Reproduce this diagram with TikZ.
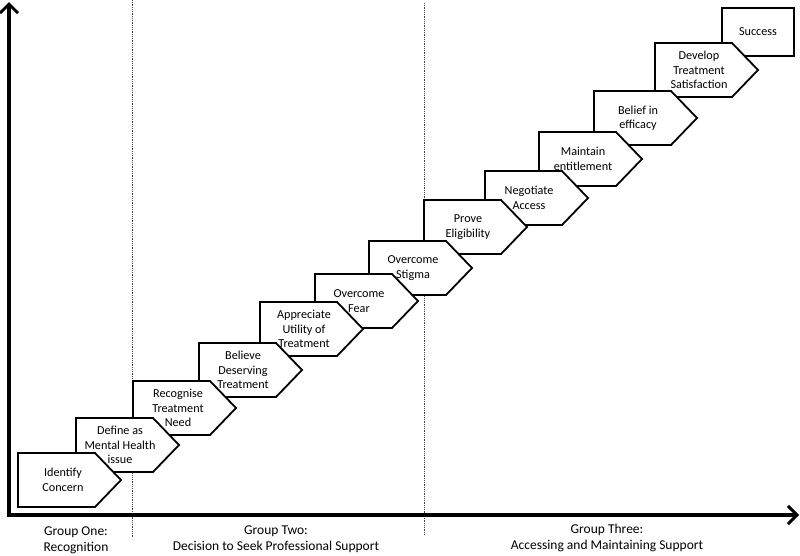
\documentclass[tikz,border=0pt]{standalone}
\usepackage{fontspec}
\setmainfont{Carlito}
\usetikzlibrary{arrows.meta}
\newcommand\stp[4]{%
  \draw[stepline] (#2,#3) -- ++(77,0) -- ++(26,27) -- ++(-26,27) -- ++(-77,0) -- cycle;
  \node[steptext] (#1) at (#2+44,#3+27) {#4};
}
\begin{document}
\begin{tikzpicture}[x=1pt,y=-1pt,
  stepline/.style={draw=black,line width=1.8pt,fill=white,line join=miter},
  steptext/.style={align=center,font=\fontsize{12.2}{14.5}\selectfont,inner sep=0pt},
  grouplabel/.style={align=center,font=\fontsize{13.5}{16}\selectfont,inner sep=0pt},
  divider/.style={densely dotted,line width=0.8pt,draw=black!75},
  axis/.style={line width=3.2pt,-{Straight Barb[length=9pt,width=18pt,line width=3pt]}}]
\useasboundingbox (0,0) rectangle (800,555);
% dividers
\coordinate (d1t) at (132,0);
\coordinate (d1b) at (132,538);
\coordinate (d2t) at (424,3);
\coordinate (d2b) at (424,535);
\draw[divider] (d1t) -- (d1b);
\draw[divider] (d2t) -- (d2b);
% axes
\coordinate (origin) at (9,515);
\coordinate (ytop) at (9,2);
\coordinate (xend) at (799,515);
\draw[axis] ([yshift=-1.6pt]origin) -- (ytop);
\draw[axis] ([xshift=-1.6pt]origin) -- (xend);
% success box
\draw[stepline] (722,8) rectangle (794,56);
\node[steptext] (success) at (758,32) {Success};
% steps, last first so earlier ones lie on top
\stp{develop}{655}{43}{}
\stp{belief}{594}{91}{}
\stp{maintain}{539}{132}{}
\stp{negotiate}{485}{171}{}
\stp{prove}{424}{200}{}
\stp{stigma}{369}{241}{}
\stp{fear}{315}{274}{}
\stp{utility}{260}{302}{}
\stp{believe}{199}{343}{}
\stp{recognise}{133}{381}{}
\stp{define}{76}{418}{}
\stp{identify}{18}{453}{}
% texts
\node[steptext] (tdevelop) at (655+44,43+27) {Develop\\Treatment\\Satisfaction};
\node[steptext] (tbelief) at (594+44,91+27) {Belief in\\efficacy};
\node[steptext] (tmaintain) at (539+44,132+27) {Maintain\\entitlement};
\node[steptext] (tnegotiate) at (485+44,171+27) {Negotiate\\Access};
\node[steptext] (tprove) at (424+44,200+27) {Prove\\Eligibility};
\node[steptext] (tstigma) at (369+44,241+27) {Overcome\\Stigma};
\node[steptext] (tfear) at (315+44,274+27) {Overcome\\Fear};
\node[steptext] (tutility) at (260+44,302+27) {Appreciate\\Utility of\\Treatment};
\node[steptext] (tbelieve) at (199+44,343+27) {Believe\\Deserving\\Treatment};
\node[steptext] (trecognise) at (133+45,381+27) {Recognise\\Treatment\\Need};
\node[steptext] (tdefine) at (76+44,418+27) {Define as\\Mental Health\\issue};
\node[steptext] (tidentify) at (18+45,453+27) {Identify\\Concern};
% group labels
\node[grouplabel] (g1) at (76,540) {Group One:\\Recognition};
\node[grouplabel] (g2) at (276,539) {Group Two:\\Decision to Seek Professional Support};
\node[grouplabel] (g3) at (607,538) {Group Three:\\Accessing and Maintaining Support};
\end{tikzpicture}
\end{document}
